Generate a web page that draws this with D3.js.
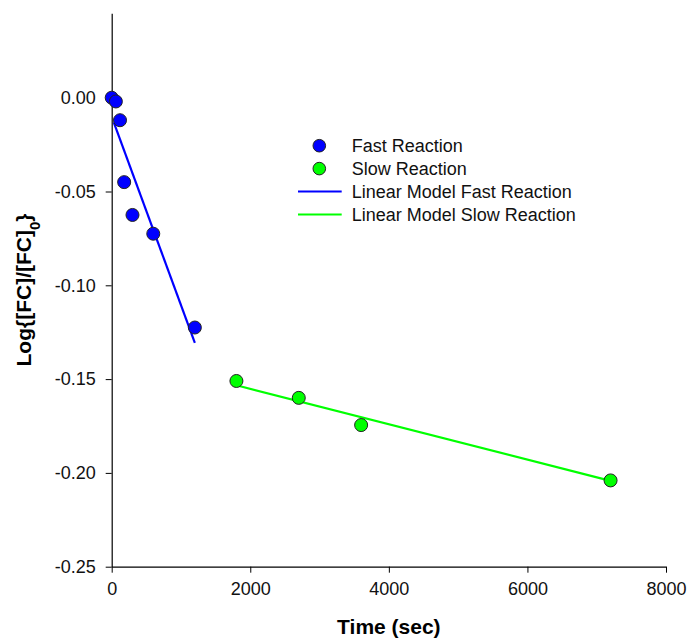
<!DOCTYPE html>
<html>
<head>
<meta charset="utf-8">
<script src="https://d3js.org/d3.v7.min.js"></script>
<style>
  body { margin: 0; background: #fff; }
  text { font-family: "Liberation Sans", Arial, sans-serif; }
</style>
</head>
<body>
<div id="chart"></div>
<script>
// data
var fastTime = [0, 60, 120, 180, 300, 600, 1200];
var fastLog = [0.000, -0.002, -0.012, -0.045, -0.0625, -0.0725, -0.1225];
var slowTime = [1800, 2700, 3600, 7200];
var slowLog = [-0.151, -0.160, -0.1745, -0.204];
// fitted lines: [start time, end time], intercept, slope
var fastFitRange = [30, 1200], fastFitB = -0.0101, fastFitM = -1.005e-4;
var slowFitRange = [1800, 7200], slowFitB = -0.1363, slowFitM = -9.44e-6;
var xTicks = [0, 2000, 4000, 6000, 8000];
var yTicks = [0, -0.05, -0.10, -0.15, -0.20, -0.25];
var legendLabels = ["Fast Reaction", "Slow Reaction", "Linear Model Fast Reaction", "Linear Model Slow Reaction"];

var width = 690, height = 638;
var margin = {top: 13.3, right: 24, bottom: 71.3, left: 111.7};

var svg = d3.select("#chart").append("svg")
  .attr("width", width)
  .attr("height", height);

var x = d3.scaleLinear().domain([0, 8000]).range([margin.left, width - margin.right]);
var y = d3.scaleLinear().domain([-0.25, 0.045]).range([height - margin.bottom, margin.top]);

// plain hyphen for negatives, like the original
var fmt2 = d3.formatLocale({decimal: ".", thousands: ",", grouping: [3], currency: ["", ""], minus: "-"}).format(".2f");

// axes
var xAxis = svg.append("g")
  .attr("transform", "translate(0," + (height - margin.bottom) + ")")
  .call(d3.axisBottom(x).tickValues(xTicks).tickSize(6).tickPadding(10).tickFormat(d3.format("d")).tickSizeOuter(0));
var yAxis = svg.append("g")
  .attr("transform", "translate(" + margin.left + ",0)")
  .call(d3.axisLeft(y).tickValues(yTicks).tickSize(6).tickPadding(10).tickFormat(fmt2).tickSizeOuter(0));

[xAxis, yAxis].forEach(function(a) {
  a.select(".domain").attr("stroke", "#000").attr("stroke-width", 1.2);
  a.selectAll(".tick line").attr("stroke", "#000").attr("stroke-width", 1);
  a.selectAll(".tick text").attr("fill", "#111").style("font-size", "18px");
});

// axis titles
svg.append("text")
  .attr("x", (x(0) + x(8000)) / 2)
  .attr("y", 634)
  .attr("text-anchor", "middle")
  .style("font-size", "21px")
  .style("font-weight", "bold")
  .text("Time (sec)");

var yt = svg.append("text")
  .attr("transform", "translate(31," + (y.range()[0] + y.range()[1]) / 2 + ") rotate(-90)")
  .attr("text-anchor", "middle")
  .style("font-size", "21px")
  .style("font-weight", "bold");
yt.append("tspan").text("Log{[FC]/[FC]");
yt.append("tspan").attr("baseline-shift", "sub").style("font-size", "15px").text("0");
yt.append("tspan").text("}");

// fit lines
function fitLine(range, b, m) {
  return range.map(function(t) { return [t, b + m * t]; });
}
var line = d3.line().x(function(d) { return x(d[0]); }).y(function(d) { return y(d[1]); });

svg.append("path")
  .attr("d", line(fitLine(fastFitRange, fastFitB, fastFitM)))
  .attr("fill", "none").attr("stroke", "#0000ff").attr("stroke-width", 2.2);
svg.append("path")
  .attr("d", line(fitLine(slowFitRange, slowFitB, slowFitM)))
  .attr("fill", "none").attr("stroke", "#00ff00").attr("stroke-width", 2.2);

// points
svg.selectAll(".fast").data(d3.zip(fastTime, fastLog)).enter().append("circle")
  .attr("cx", function(d) { return x(d[0]); })
  .attr("cy", function(d) { return y(d[1]); })
  .attr("r", 6.5)
  .attr("fill", "#0000ff").attr("stroke", "#222").attr("stroke-width", 1);
svg.selectAll(".slow").data(d3.zip(slowTime, slowLog)).enter().append("circle")
  .attr("cx", function(d) { return x(d[0]); })
  .attr("cy", function(d) { return y(d[1]); })
  .attr("r", 6.5)
  .attr("fill", "#00ff00").attr("stroke", "#222").attr("stroke-width", 1);

// legend
var legend = svg.append("g").attr("transform", "translate(298,145.7)");
var colors = ["#0000ff", "#00ff00", "#0000ff", "#00ff00"];
legendLabels.forEach(function(lab, i) {
  var g = legend.append("g").attr("transform", "translate(0," + (i * 22.9) + ")");
  if (i < 2) {
    g.append("circle").attr("cx", 21.3).attr("cy", 0).attr("r", 6.3)
      .attr("fill", colors[i]).attr("stroke", "#222").attr("stroke-width", 1);
  } else {
    g.append("line").attr("x1", 0).attr("x2", 43.7).attr("y1", 0).attr("y2", 0)
      .attr("stroke", colors[i]).attr("stroke-width", 2);
  }
  g.append("text").attr("x", 53.7).attr("y", 0).attr("dy", "0.36em")
    .style("font-size", "18px").attr("fill", "#111").text(lab);
});
</script>
</body>
</html>
